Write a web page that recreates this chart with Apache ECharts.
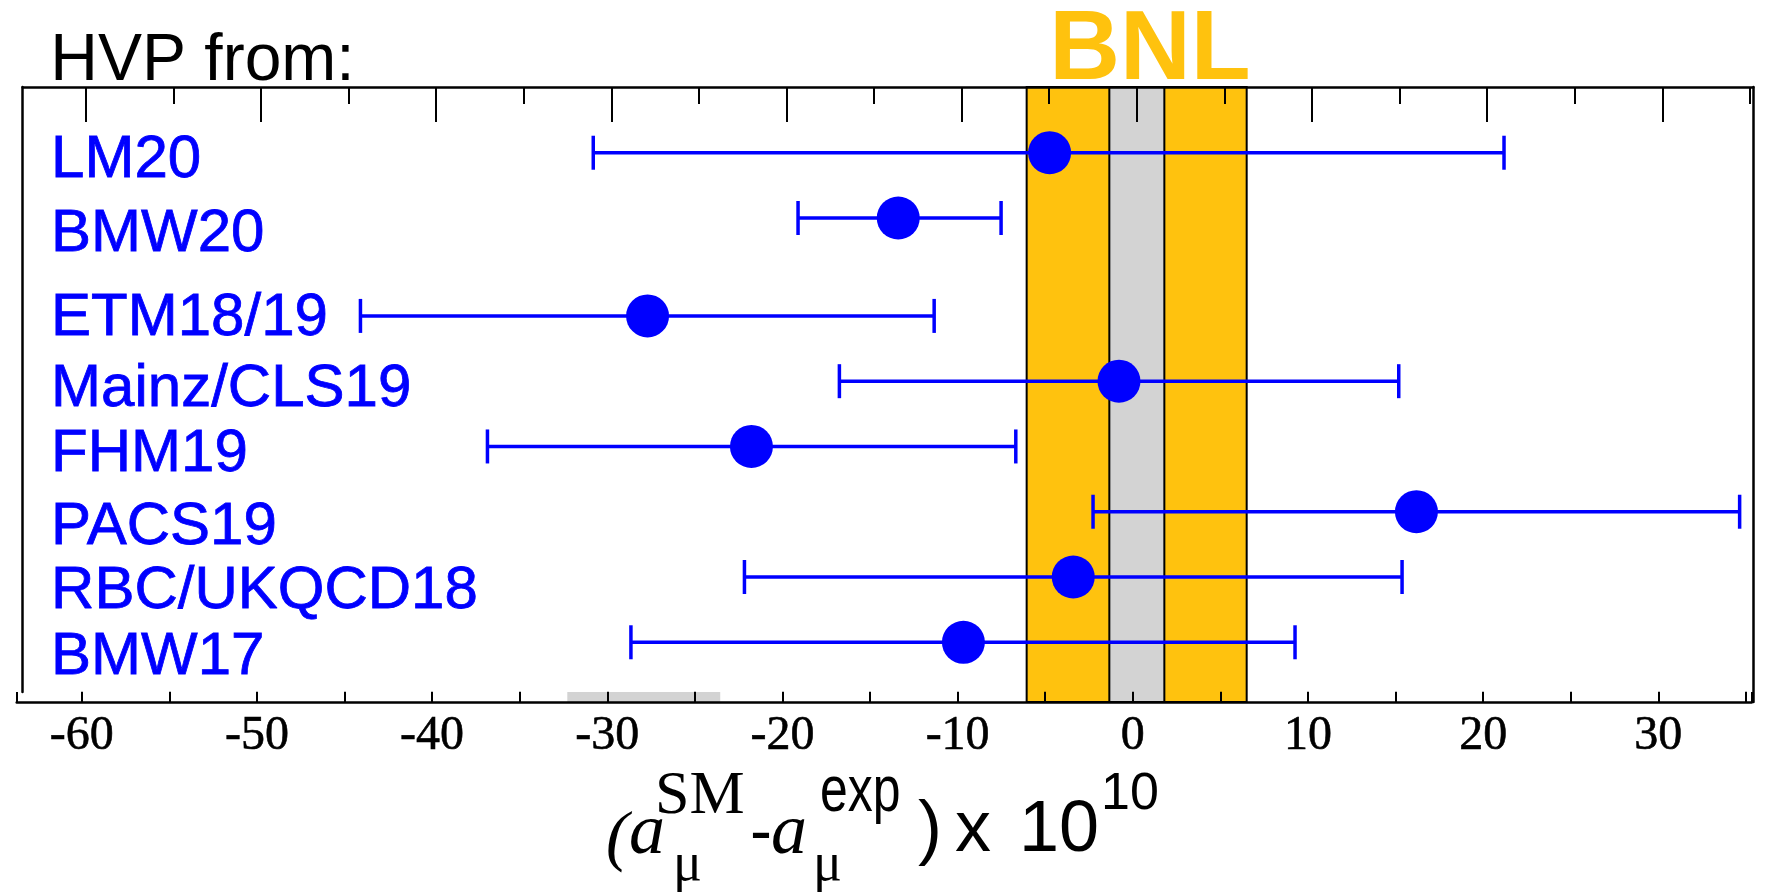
<!DOCTYPE html>
<html>
<head>
<meta charset="utf-8">
<script src="https://cdn.jsdelivr.net/npm/echarts@6/dist/echarts.min.js"></script>
<style>
  html, body { margin: 0; padding: 0; background: #fff; }
  #chart { width: 1765px; height: 894px; }
</style>
</head>
<body>
<div id="chart"></div>
<script>
// Lattice HVP determinations: (a_mu^SM - a_mu^exp) x 10^10
const categories = ['LM20', 'BMW20', 'ETM18/19', 'Mainz/CLS19', 'FHM19', 'PACS19', 'RBC/UKQCD18', 'BMW17'];
const rowLevel   = [7.5, 6.5, 5, 4, 3, 2, 1, 0];
const labelLevel = [7.42, 6.30, 5.00, 3.92, 2.93, 1.81, 0.82, -0.18];
const central    = [-4.75, -13.39, -27.70, -0.79, -21.77, 16.19, -3.40, -9.67];
const lower      = [-30.80, -19.11, -44.09, -16.75, -36.84, -2.27, -22.17, -28.65];
const upper      = [21.19, -7.52, -11.34, 15.18, -6.68, 34.64, 15.37, 9.26];

// BNL experimental band and the narrower inner band
const bnlBand   = [-6.06, 6.50];
const innerBand = [-1.34, 1.80];
// shaded strip on the bottom axis
const axisShade = [-32.28, -23.55];

// axis ranges
const plotRange  = [-63.37, 35.42];
const axisRange  = [-63.71, 35.33];
const tickRange  = [-70, 40];
const rowRange   = [-0.915, 8.507];

const BLUE = '#0000FF';
const GOLD = '#FFC20E';
const GREY = '#D3D3D3';

function renderErrorBar(params, api) {
  const row = api.value(2);
  const a = api.coord([api.value(0), row]);
  const b = api.coord([api.value(1), row]);
  const cap = 17;
  const style = { stroke: BLUE, lineWidth: 3.5, fill: null };
  return {
    type: 'group',
    children: [
      { type: 'line', shape: { x1: a[0], y1: a[1], x2: b[0], y2: b[1] }, style },
      { type: 'line', shape: { x1: a[0], y1: a[1] - cap, x2: a[0], y2: a[1] + cap }, style },
      { type: 'line', shape: { x1: b[0], y1: b[1] - cap, x2: b[0], y2: b[1] + cap }, style }
    ]
  };
}

// text piece placed by its left edge and alphabetic baseline
function piece(text, x, baseline, size, family, opt) {
  opt = opt || {};
  const k = family.indexOf('Serif') >= 0 ? 0.29 : 0.30;
  return {
    type: 'text',
    x: x,
    y: baseline - k * size,
    scaleX: opt.scaleX || 1,
    silent: true,
    z: 20,
    style: {
      text: text,
      font: (opt.italic ? 'italic ' : '') + (opt.bold ? 'bold ' : '') + size + 'px "' + family + '"',
      fill: opt.fill || '#000',
      align: 'left',
      verticalAlign: 'middle',
      textAlign: 'left',
      textVerticalAlign: 'middle'
    }
  };
}

const blackLine = { show: true, onZero: false, lineStyle: { color: '#000', width: 2.5 } };
const noLine = { show: false, onZero: false };

const option = {
  animation: false,
  backgroundColor: '#fff',
  grid: [
    { left: 22.7, right: 11.7, top: 87, bottom: 192, outerBoundsMode: 'none' },       // plot frame
    { left: -89.46, right: -72.52, top: 87, bottom: 192, outerBoundsMode: 'none' },   // top ticks
    { left: -93.46, right: -68.52, top: 87, bottom: 191.3, outerBoundsMode: 'none' }, // bottom ticks + labels
    { left: 16.7, right: 13.3, top: 692, bottom: 191.3, outerBoundsMode: 'none' },    // bottom axis line
    { left: 22.7, right: 11.7, top: 87, bottom: 202, outerBoundsMode: 'none' }        // left frame side
  ],
  xAxis: [
    { gridIndex: 0, type: 'value', min: plotRange[0], max: plotRange[1], position: 'bottom',
      axisLine: noLine, axisTick: { show: false }, axisLabel: { show: false }, splitLine: { show: false } },
    { gridIndex: 0, type: 'value', min: plotRange[0], max: plotRange[1], position: 'top', z: 6,
      axisLine: blackLine, axisTick: { show: false }, axisLabel: { show: false }, splitLine: { show: false } },
    { gridIndex: 1, type: 'value', min: tickRange[0], max: tickRange[1], interval: 10, position: 'top', z: 6,
      axisLine: noLine,
      axisTick: { show: true, inside: true, length: 35, lineStyle: { color: '#000', width: 2 } },
      minorTick: { show: true, splitNumber: 2, length: 17, lineStyle: { color: '#000', width: 2 } },
      axisLabel: { show: false }, splitLine: { show: false }, minorSplitLine: { show: false } },
    { gridIndex: 2, type: 'value', min: tickRange[0], max: tickRange[1], interval: 5, position: 'bottom', z: 6,
      axisLine: noLine,
      axisTick: { show: true, inside: true, length: 11, lineStyle: { color: '#000', width: 2 } },
      axisLabel: {
        show: true, margin: 10, color: '#000', fontFamily: 'Liberation Serif', fontSize: 48,
        textBorderColor: '#000', textBorderWidth: 0.6,
        formatter: function (v) { return v % 10 === 0 ? String(v) : ''; }
      },
      splitLine: { show: false } },
    { gridIndex: 3, type: 'value', min: axisRange[0], max: axisRange[1], position: 'bottom', z: 6,
      axisLine: blackLine, axisTick: { show: false }, axisLabel: { show: false }, splitLine: { show: false } },
    { gridIndex: 4, type: 'value', min: plotRange[0], max: plotRange[1], show: false }
  ],
  yAxis: [
    { gridIndex: 0, type: 'value', min: rowRange[0], max: rowRange[1], position: 'left',
      axisLine: noLine, axisTick: { show: false }, axisLabel: { show: false }, splitLine: { show: false } },
    { gridIndex: 0, type: 'value', min: rowRange[0], max: rowRange[1], position: 'right', z: 6,
      axisLine: blackLine, axisTick: { show: false }, axisLabel: { show: false }, splitLine: { show: false } },
    { gridIndex: 1, type: 'value', min: 0, max: 1, show: false },
    { gridIndex: 2, type: 'value', min: 0, max: 1, show: false },
    { gridIndex: 3, type: 'value', min: 0, max: 1, show: false },
    { gridIndex: 4, type: 'value', min: 0, max: 1, position: 'left', z: 6,
      axisLine: blackLine, axisTick: { show: false }, axisLabel: { show: false }, splitLine: { show: false } }
  ],
  series: [
    {
      name: 'bands', type: 'line', xAxisIndex: 0, yAxisIndex: 0, data: [], z: 1, silent: true,
      markArea: {
        silent: true,
        itemStyle: { borderColor: '#000', borderWidth: 2 },
        data: [
          [{ xAxis: bnlBand[0], itemStyle: { color: GOLD, borderColor: '#000', borderWidth: 2 } }, { xAxis: bnlBand[1] }],
          [{ xAxis: innerBand[0], itemStyle: { color: GREY, borderColor: '#000', borderWidth: 2 } }, { xAxis: innerBand[1] }]
        ]
      }
    },
    {
      name: 'axis shade', type: 'line', xAxisIndex: 4, yAxisIndex: 4, data: [], z: 1, silent: true,
      markArea: {
        silent: true,
        data: [[{ xAxis: axisShade[0], itemStyle: { color: GREY, borderWidth: 0 } }, { xAxis: axisShade[1] }]]
      },
      // end marks of the bottom axis line
      markLine: {
        silent: true, symbol: 'none', label: { show: false },
        lineStyle: { color: '#000', width: 2, type: 'solid' },
        data: [{ xAxis: axisRange[0] }, { xAxis: axisRange[1] }]
      }
    },
    {
      name: 'error bars', type: 'custom', xAxisIndex: 0, yAxisIndex: 0, z: 3, silent: true,
      renderItem: renderErrorBar,
      encode: { x: [0, 1], y: 2 },
      data: categories.map(function (c, i) { return [lower[i], upper[i], rowLevel[i]]; })
    },
    {
      name: 'central', type: 'scatter', xAxisIndex: 0, yAxisIndex: 0, z: 4, silent: true,
      symbol: 'circle', symbolSize: 43,
      itemStyle: { color: BLUE, opacity: 1 },
      data: categories.map(function (c, i) { return [central[i], rowLevel[i]]; })
    },
    {
      name: 'names', type: 'scatter', xAxisIndex: 0, yAxisIndex: 0, z: 5, silent: true,
      symbolSize: 0,
      itemStyle: { color: BLUE, opacity: 1 },
      label: {
        show: true, position: 'right', distance: 0, offset: [0, 3],
        formatter: function (p) { return p.value[2]; },
        color: BLUE, opacity: 1, fontFamily: 'Liberation Sans', fontSize: 60,
        textBorderColor: BLUE, textBorderWidth: 0.8
      },
      data: categories.map(function (c, i) { return [-61.75, labelLevel[i], c]; })
    }
  ],
  graphic: [
    piece('HVP from:', 50.3, 81.7, 66, 'Liberation Sans'),
    piece('BNL', 1049.3, 81.7, 98, 'Liberation Sans', { bold: true, fill: GOLD }),
    // axis title: (a_mu^SM - a_mu^exp) x 10^10
    piece('(', 606, 860, 68, 'Liberation Serif', { italic: true }),
    piece('a', 629, 855, 72, 'Liberation Serif', { italic: true }),
    piece('SM', 655, 815, 62, 'Liberation Serif'),
    piece('\u03bc', 673, 881, 54, 'Liberation Serif'),
    piece('-', 750, 855, 66, 'Liberation Sans'),
    piece('a', 771, 855, 72, 'Liberation Serif', { italic: true }),
    piece('\u03bc', 813, 881, 54, 'Liberation Serif'),
    piece('exp', 820, 813, 64, 'Liberation Sans', { scaleX: 0.78 }),
    piece(')', 918, 853, 72, 'Liberation Sans'),
    piece('x', 955, 853, 72, 'Liberation Sans'),
    piece('10', 1019, 853, 72, 'Liberation Sans'),
    piece('10', 1101, 810, 52, 'Liberation Sans')
  ]
};

const chart = echarts.init(document.getElementById('chart'), null, { renderer: 'canvas' });
chart.setOption(option);
</script>
</body>
</html>
